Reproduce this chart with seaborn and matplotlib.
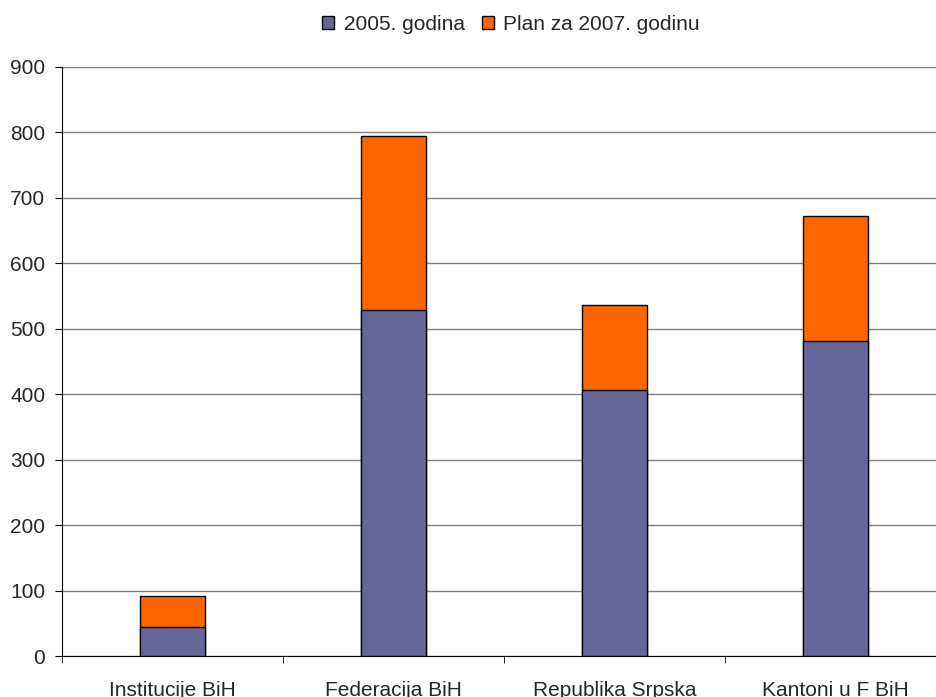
import matplotlib
matplotlib.use("Agg")
import matplotlib.pyplot as plt
import seaborn as sns
import pandas as pd
from matplotlib.patches import Patch

categories = ["Institucije BiH", "Federacija BiH", "Republika Srpska", "Kantoni u F BiH"]
godina_2005 = [45, 528, 406, 482]
plan_2007 = [47, 266, 131, 190]
series_names = ["2005. godina", "Plan za 2007. godinu"]

df = pd.DataFrame({"kategorija": categories, "2005": godina_2005, "plan": plan_2007})
df["ukupno"] = df["2005"] + df["plan"]

sns.set_style("white")
plt.rcParams["font.family"] = ["Liberation Sans", "DejaVu Sans"]

fig = plt.figure(figsize=(9.36, 6.97), dpi=100)
ax = fig.add_axes([62 / 936, 1 - 656 / 697, 884 / 936, 589 / 697])

purple = "#666699"
orange = "#FF6600"

# stacked bars: total first (orange), then the 2005 part over it
sns.barplot(data=df, x="kategorija", y="ukupno", color=orange, width=0.295,
            edgecolor="black", linewidth=1, saturation=1, ax=ax, zorder=3)
sns.barplot(data=df, x="kategorija", y="2005", color=purple, width=0.295,
            edgecolor="black", linewidth=1, saturation=1, ax=ax, zorder=3)

ax.set_xlim(-0.5, 3.5)
ax.set_ylim(0, 900)
ax.set_yticks(range(0, 901, 100))
ax.yaxis.grid(True, color="#808080", linewidth=1, zorder=0)
ax.set_xlabel("")
ax.set_ylabel("")

for side in ["top", "right"]:
    ax.spines[side].set_visible(False)
ax.spines["left"].set_color("black")
ax.spines["bottom"].set_color("black")

ax.tick_params(axis="y", direction="out", length=5, color="black", labelsize=15, pad=7, left=True)
ax.tick_params(axis="x", which="major", length=0, labelsize=15, pad=18)
ax.set_xticks([-0.5, 0.5, 1.5, 2.5, 3.5], minor=True)
ax.tick_params(axis="x", which="minor", direction="out", length=5, color="black", bottom=True)

handles = [Patch(facecolor=purple, edgecolor="black", label=series_names[0]),
           Patch(facecolor=orange, edgecolor="black", label=series_names[1])]
fig.legend(handles=handles, loc="center", bbox_to_anchor=(511 / 936, 1 - 24 / 697), ncol=2,
           frameon=False, fontsize=15, handlelength=0.6, handleheight=0.6,
           handletextpad=0.45, columnspacing=0.8, borderpad=0)

fig.savefig("out.png", dpi=100)
